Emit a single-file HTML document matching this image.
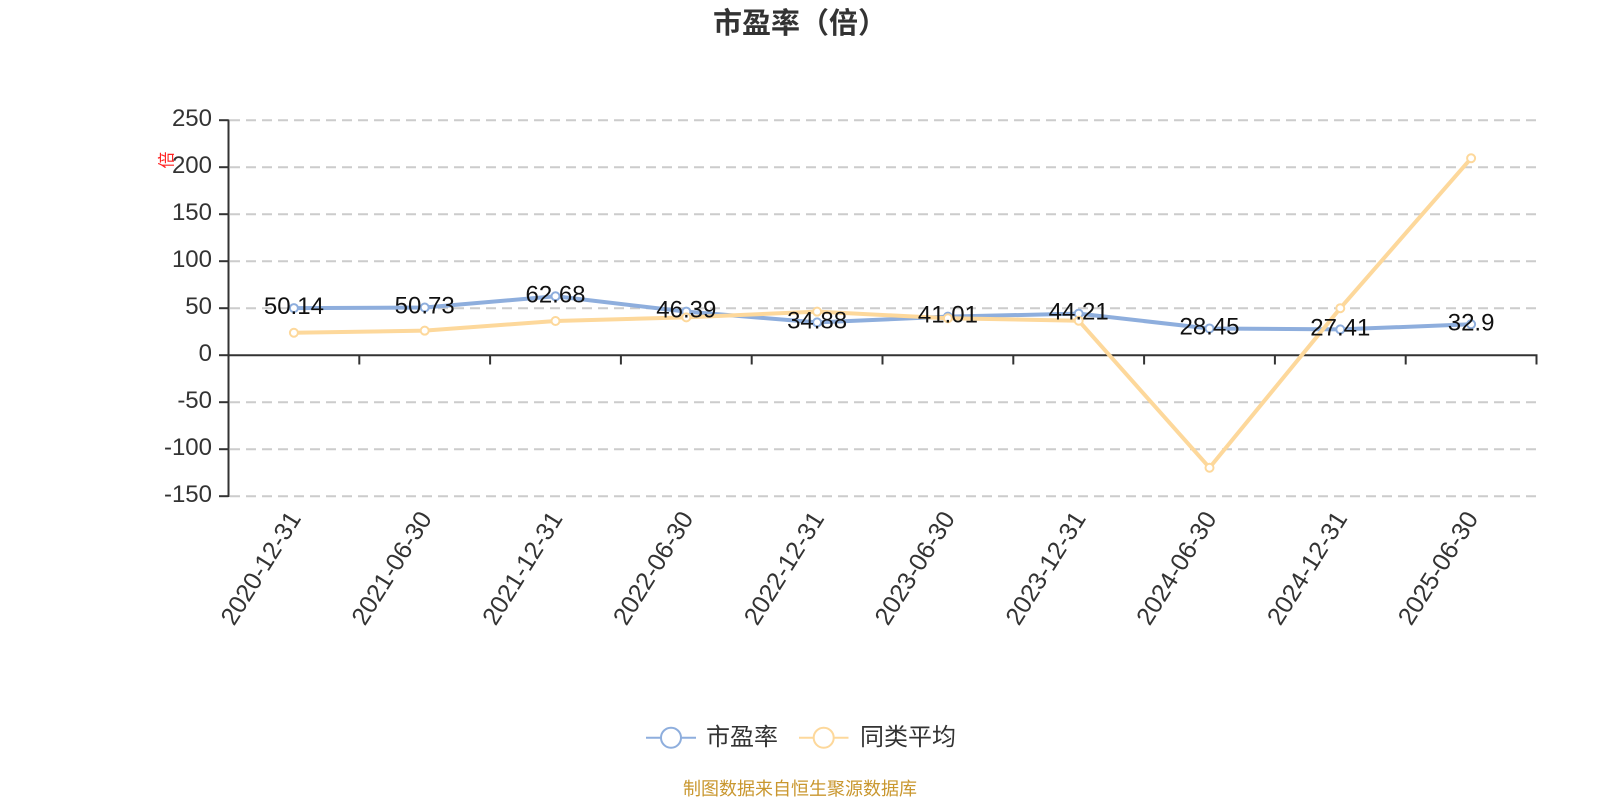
<!DOCTYPE html>
<html>
<head>
<meta charset="utf-8">
<style>
  html, body { margin: 0; padding: 0; background: #ffffff; }
  svg { display: block; }
  .num { font-family: "Liberation Sans", "Noto Sans CJK SC", sans-serif; }
  .cjk { font-family: "Liberation Sans", "Noto Sans CJK SC", sans-serif; }
</style>
</head>
<body>
<svg width="1600" height="800" viewBox="0 0 1600 800" xmlns="http://www.w3.org/2000/svg">
  <rect width="1600" height="800" fill="#ffffff"/>

  <!-- Title -->
  <text class="cjk" x="800" y="24" text-anchor="middle" dominant-baseline="central" font-size="29" font-weight="bold" fill="#333333">市盈率（倍）</text>

  <!-- Grid lines (dashed) -->
  <g stroke="#cccccc" stroke-width="2" stroke-dasharray="10,6" fill="none">
    <line x1="230" y1="120.2" x2="1537" y2="120.2"/>
    <line x1="230" y1="167.2" x2="1537" y2="167.2"/>
    <line x1="230" y1="214.2" x2="1537" y2="214.2"/>
    <line x1="230" y1="261.2" x2="1537" y2="261.2"/>
    <line x1="230" y1="308.2" x2="1537" y2="308.2"/>
    <line x1="230" y1="402.2" x2="1537" y2="402.2"/>
    <line x1="230" y1="449.2" x2="1537" y2="449.2"/>
    <line x1="230" y1="496.2" x2="1537" y2="496.2"/>
  </g>

  <!-- Y axis -->
  <g stroke="#333333" stroke-width="2">
    <line x1="228.5" y1="119.5" x2="228.5" y2="497"/>
    <line x1="219" y1="120.2" x2="228.5" y2="120.2"/>
    <line x1="219" y1="167.2" x2="228.5" y2="167.2"/>
    <line x1="219" y1="214.2" x2="228.5" y2="214.2"/>
    <line x1="219" y1="261.2" x2="228.5" y2="261.2"/>
    <line x1="219" y1="308.2" x2="228.5" y2="308.2"/>
    <line x1="219" y1="355.2" x2="228.5" y2="355.2"/>
    <line x1="219" y1="402.2" x2="228.5" y2="402.2"/>
    <line x1="219" y1="449.2" x2="228.5" y2="449.2"/>
    <line x1="219" y1="496.2" x2="228.5" y2="496.2"/>
  </g>

  <!-- Y tick labels -->
  <g class="num" font-size="24" fill="#333333" text-anchor="end">
    <text x="212" y="126.2">250</text>
    <text x="212" y="173.2">200</text>
    <text x="212" y="220.2">150</text>
    <text x="212" y="267.2">100</text>
    <text x="212" y="314.2">50</text>
    <text x="212" y="361.2">0</text>
    <text x="212" y="408.2">-50</text>
    <text x="212" y="455.2">-100</text>
    <text x="212" y="502.2">-150</text>
  </g>

  <!-- Y axis name (red) -->
  <text class="cjk" x="0" y="0" transform="translate(167,160) rotate(-90)" text-anchor="middle" dominant-baseline="central" font-size="17" fill="#ff2222">倍</text>

  <!-- X axis line at zero -->
  <g stroke="#333333" stroke-width="2">
    <line x1="228.5" y1="355.2" x2="1537.5" y2="355.2"/>
    <line x1="359.3" y1="355.2" x2="359.3" y2="364.5"/>
    <line x1="490.1" y1="355.2" x2="490.1" y2="364.5"/>
    <line x1="620.9" y1="355.2" x2="620.9" y2="364.5"/>
    <line x1="751.7" y1="355.2" x2="751.7" y2="364.5"/>
    <line x1="882.5" y1="355.2" x2="882.5" y2="364.5"/>
    <line x1="1013.3" y1="355.2" x2="1013.3" y2="364.5"/>
    <line x1="1144.1" y1="355.2" x2="1144.1" y2="364.5"/>
    <line x1="1274.9" y1="355.2" x2="1274.9" y2="364.5"/>
    <line x1="1405.7" y1="355.2" x2="1405.7" y2="364.5"/>
    <line x1="1536.5" y1="355.2" x2="1536.5" y2="364.5"/>
  </g>

  <!-- X labels (rotated) -->
  <g class="num" font-size="25" fill="#333333" text-anchor="end" dominant-baseline="central">
    <text transform="translate(295,514) rotate(-58)">2020-12-31</text>
    <text transform="translate(425.8,514) rotate(-58)">2021-06-30</text>
    <text transform="translate(556.6,514) rotate(-58)">2021-12-31</text>
    <text transform="translate(687.4,514) rotate(-58)">2022-06-30</text>
    <text transform="translate(818.2,514) rotate(-58)">2022-12-31</text>
    <text transform="translate(949,514) rotate(-58)">2023-06-30</text>
    <text transform="translate(1079.8,514) rotate(-58)">2023-12-31</text>
    <text transform="translate(1210.6,514) rotate(-58)">2024-06-30</text>
    <text transform="translate(1341.4,514) rotate(-58)">2024-12-31</text>
    <text transform="translate(1472.2,514) rotate(-58)">2025-06-30</text>
  </g>

  <!-- Series: 市盈率 (blue) -->
  <polyline fill="none" stroke="#8eaedd" stroke-width="4" stroke-linejoin="round"
    points="293.9,308.07 424.7,307.51 555.5,296.28 686.3,311.59 817.1,322.41 947.9,316.65 1078.7,313.64 1209.5,328.46 1340.3,329.43 1471.1,324.27"/>
  <g fill="#ffffff" stroke="#8eaedd" stroke-width="2">
    <circle cx="293.9" cy="308.07" r="4"/>
    <circle cx="424.7" cy="307.51" r="4"/>
    <circle cx="555.5" cy="296.28" r="4"/>
    <circle cx="686.3" cy="311.59" r="4"/>
    <circle cx="817.1" cy="322.41" r="4"/>
    <circle cx="947.9" cy="316.65" r="4"/>
    <circle cx="1078.7" cy="313.64" r="4"/>
    <circle cx="1209.5" cy="328.46" r="4"/>
    <circle cx="1340.3" cy="329.43" r="4"/>
    <circle cx="1471.1" cy="324.27" r="4"/>
  </g>

  <!-- Series: 同类平均 (orange) -->
  <polyline fill="none" stroke="#fdd89b" stroke-width="4" stroke-linejoin="round"
    points="293.9,332.73 424.7,330.67 555.5,320.98 686.3,317.32 817.1,311.68 947.9,318.26 1078.7,320.70 1209.5,467.72 1340.3,308.2 1471.1,158.27"/>
  <g fill="#ffffff" stroke="#fdd89b" stroke-width="2">
    <circle cx="293.9" cy="332.73" r="4"/>
    <circle cx="424.7" cy="330.67" r="4"/>
    <circle cx="555.5" cy="320.98" r="4"/>
    <circle cx="686.3" cy="317.32" r="4"/>
    <circle cx="817.1" cy="311.68" r="4"/>
    <circle cx="947.9" cy="318.26" r="4"/>
    <circle cx="1078.7" cy="320.70" r="4"/>
    <circle cx="1209.5" cy="467.72" r="4"/>
    <circle cx="1340.3" cy="308.2" r="4"/>
    <circle cx="1471.1" cy="158.27" r="4"/>
  </g>

  <!-- Data labels -->
  <g class="num" font-size="24" fill="#111111" text-anchor="middle">
    <text x="293.9" y="314.1">50.14</text>
    <text x="424.7" y="313.5">50.73</text>
    <text x="555.5" y="302.3">62.68</text>
    <text x="686.3" y="317.6">46.39</text>
    <text x="817.1" y="328.4">34.88</text>
    <text x="947.9" y="322.7">41.01</text>
    <text x="1078.7" y="319.6">44.21</text>
    <text x="1209.5" y="334.5">28.45</text>
    <text x="1340.3" y="335.4">27.41</text>
    <text x="1471.1" y="330.3">32.9</text>
  </g>

  <!-- Legend -->
  <g>
    <line x1="646" y1="737.7" x2="696" y2="737.7" stroke="#8eaedd" stroke-width="2"/>
    <circle cx="671" cy="737.7" r="10" fill="#ffffff" stroke="#8eaedd" stroke-width="2"/>
    <text class="cjk" x="706" y="737.7" dominant-baseline="central" font-size="24" fill="#333333">市盈率</text>

    <line x1="799" y1="737.7" x2="848.5" y2="737.7" stroke="#fdd89b" stroke-width="2"/>
    <circle cx="823.7" cy="737.7" r="10" fill="#ffffff" stroke="#fdd89b" stroke-width="2"/>
    <text class="cjk" x="860" y="737.7" dominant-baseline="central" font-size="24" fill="#333333">同类平均</text>
  </g>

  <!-- Footer -->
  <text class="cjk" x="800" y="789" text-anchor="middle" dominant-baseline="central" font-size="18" fill="#c9972f">制图数据来自恒生聚源数据库</text>
</svg>
</body>
</html>
